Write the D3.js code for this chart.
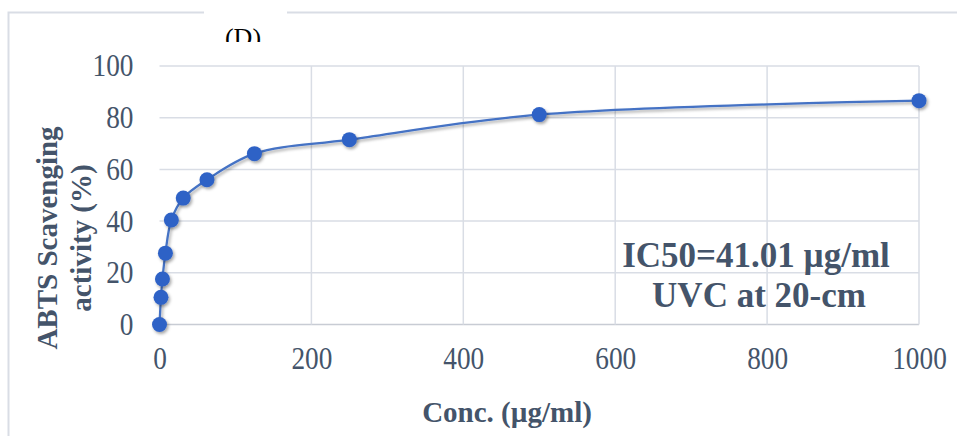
<!DOCTYPE html>
<html><head><meta charset="utf-8">
<script src="https://cdn.jsdelivr.net/npm/d3@7"></script>
<style>body{margin:0;background:#fff}svg{display:block}</style>
</head><body>
<svg id="c" width="957" height="436"></svg>
<script>
const conc = [0, 1.95, 3.9, 7.8, 15.6, 31.25, 62.5, 125, 250, 500, 1000];
const activity = [0, 10.5, 17.6, 27.6, 40.4, 48.9, 56, 66.1, 71.5, 81.2, 86.6];
const xTicks = [0, 200, 400, 600, 800, 1000];
const yTicks = [0, 20, 40, 60, 80, 100];
const title = "(D)";
const xTitle = "Conc. (µg/ml)";
const yTitleLines = ["ABTS Scavenging", "activity (%)"];
const noteLines = ["IC50=41.01 µg/ml", "UVC at 20-cm"];

const svg = d3.select("#c");
const m = {left: 159.5, right: 919, top: 66, bottom: 324.5};
const x = d3.scaleLinear().domain([0, 1000]).range([m.left, m.right]);
const y = d3.scaleLinear().domain([0, 100]).range([m.bottom, m.top]);
const txt = "#44546a", grid = "#d9dde5";
const sx = 0.88; // horizontal condensing of tick labels

const defs = svg.append("defs");
const f = defs.append("filter").attr("id", "sh").attr("x", "-50%").attr("y", "-50%").attr("width", "200%").attr("height", "200%");
f.append("feDropShadow").attr("dx", 1.5).attr("dy", 2).attr("stdDeviation", 1.5).attr("flood-color", "#000").attr("flood-opacity", 0.35);
defs.append("clipPath").attr("id", "tc").append("rect").attr("x", 150).attr("y", 0).attr("width", 200).attr("height", 42);

// outer chart border
svg.append("path").attr("d", `M204,12.5 H8.5 V436 M287,12.5 H957`).attr("fill", "none").attr("stroke", grid).attr("stroke-width", 2);

svg.append("text").attr("x", 243).attr("y", 46).attr("text-anchor", "middle")
  .attr("font-family", "Liberation Serif").attr("font-size", 26).attr("fill", "#000")
  .attr("clip-path", "url(#tc)").text(title);

// gridlines
svg.append("g").selectAll("line").data(yTicks).join("line")
  .attr("x1", m.left).attr("x2", m.right).attr("y1", d => y(d)).attr("y2", d => y(d))
  .attr("stroke", d => d === 0 ? "#c8ccd4" : grid).attr("stroke-width", 1.5);
svg.append("g").selectAll("line").data(xTicks.filter(d => d > 0)).join("line")
  .attr("y1", m.top).attr("y2", m.bottom).attr("x1", d => x(d)).attr("x2", d => x(d))
  .attr("stroke", grid).attr("stroke-width", 1.5);

// axes (labels only), condensed horizontally
const xAxis = svg.append("g").attr("transform", `translate(0,${m.bottom})`)
  .call(d3.axisBottom(x).tickValues(xTicks).tickFormat(d3.format("d")).tickSize(0).tickPadding(22));
const yAxis = svg.append("g").attr("transform", `translate(${m.left},0)`)
  .call(d3.axisLeft(y).tickValues(yTicks).tickSize(0).tickPadding(26));
[xAxis, yAxis].forEach(a => {
  a.select(".domain").remove();
  a.selectAll("text").attr("font-family", "Liberation Serif").attr("font-size", 31).attr("fill", txt);
});
xAxis.selectAll("text").attr("dy", "0.71em").attr("transform", `scale(${sx},1)`);
yAxis.selectAll("text").attr("transform", `scale(${sx},1)`).attr("x", function() { return +d3.select(this).attr("x") / sx; });

// annotation
svg.append("g").selectAll("text").data(noteLines).join("text")
  .attr("x", (d, i) => i ? 759 : 756).attr("y", (d, i) => 267 + i * 40).attr("text-anchor", "middle")
  .attr("font-family", "Liberation Serif").attr("font-weight", "bold").attr("font-size", 35).attr("fill", txt)
  .text(d => d);

// axis titles
svg.append("text").attr("x", 507).attr("y", 422).attr("text-anchor", "middle")
  .attr("font-family", "Liberation Serif").attr("font-weight", "bold").attr("font-size", 29).attr("fill", txt).text(xTitle);
svg.append("g").attr("transform", "translate(0,238) rotate(-90)").selectAll("text").data(yTitleLines).join("text")
  .attr("x", 0).attr("y", (d, i) => 57 + i * 34).attr("text-anchor", "middle")
  .attr("font-family", "Liberation Serif").attr("font-weight", "bold").attr("font-size", 29).attr("fill", txt).text(d => d);

// line + markers
const pts = conc.map((c, i) => [c, activity[i]]);
const line = d3.line().x(d => x(d[0])).y(d => y(d[1])).curve(d3.curveCatmullRom.alpha(0.5));
svg.append("path").datum(pts).attr("d", line).attr("fill", "none").attr("stroke", "#4472c4").attr("stroke-width", 2.25)
  .attr("filter", "url(#sh)");
svg.append("g").selectAll("circle").data(pts).join("circle")
  .attr("cx", d => x(d[0])).attr("cy", d => y(d[1])).attr("r", 7.5)
  .attr("fill", "#2f62c6").attr("filter", "url(#sh)");
</script>
</body></html>
